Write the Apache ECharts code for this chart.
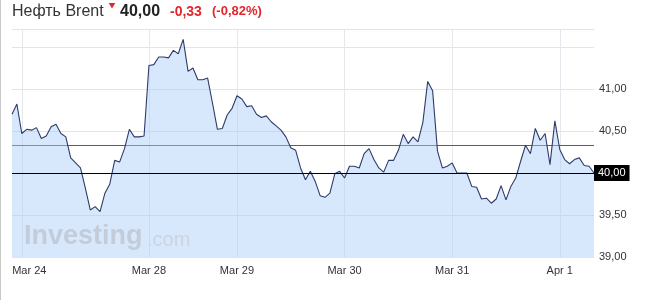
<!DOCTYPE html>
<html>
<head>
<meta charset="utf-8">
<script src="https://cdn.jsdelivr.net/npm/echarts@6/dist/echarts.min.js"></script>
<style>
html,body{margin:0;padding:0;background:#fff;}
#c{width:648px;height:300px;}
</style>
</head>
<body>
<div id="c"></div>
<script>
// Price series (hourly points)
const prices = [
40.70,40.82,40.47,40.52,40.51,40.54,40.41,40.44,40.55,40.58,
40.47,40.43,40.18,40.12,40.06,39.82,39.56,39.60,39.54,39.76,
39.87,40.15,40.13,40.29,40.52,40.43,40.43,40.44,41.28,41.29,
41.38,41.38,41.37,41.46,41.42,41.59,41.21,41.25,41.11,41.11,
41.13,40.83,40.52,40.53,40.69,40.77,40.92,40.88,40.79,40.80,
40.70,40.66,40.68,40.61,40.56,40.51,40.43,40.30,40.27,40.06,
39.92,40.02,39.90,39.73,39.71,39.76,39.99,40.02,39.94,40.08,
40.08,40.06,40.23,40.29,40.16,40.06,40.01,40.15,40.15,40.27,
40.46,40.35,40.43,40.37,40.60,41.09,40.98,40.26,40.06,40.08,
40.12,40.00,40.00,40.00,39.84,39.83,39.69,39.70,39.64,39.69,
39.85,39.68,39.84,39.94,40.14,40.33,40.23,40.53,40.39,40.47,
40.10,40.62,40.28,40.16,40.11,40.16,40.18,40.09,40.08,40.00
];
// Day tick labels and the point index where each day starts
const dayLabels = ['Mar 24','Mar 28','Mar 29','Mar 30','Mar 31','Apr 1'];
const dayIndex = [2, 28, 46, 68, 90, 112];
// Y-axis tick labels shown
const yTicks = [39.0, 39.5, 40.5, 41.0];
const prevClose = 40.33;
const lastPrice = 40.00;
const titleName = 'Нефть Brent';
const titleLast = '40,00';
const titleChange = '-0,33';
const titlePct = '(-0,82%)';

const categories = prices.map((_, i) => String(i));
const FONT = 'Arial, "Liberation Sans", sans-serif';
const fmt = v => v.toFixed(2).replace('.', ',');
const RED = '#e0262d';

const staticGraphics = [
  {type: 'line', shape: {x1: 0.5, y1: 0, x2: 0.5, y2: 300}, style: {stroke: '#c8c8c8', lineWidth: 1}, z: 10},
  {type: 'text', left: 12, top: 4, z: 10, style: {text: titleName, font: '16px ' + FONT, fill: '#333'}},
  {type: 'polygon', z: 10, shape: {points: [[108.7, 3], [115.3, 3], [112, 8.5]]}, style: {fill: '#e4252b'}},
  {type: 'text', left: 120, top: 4, z: 10, style: {text: titleLast, font: 'bold 16px ' + FONT, fill: '#222'}},
  {type: 'text', left: 170, top: 5, z: 10, style: {text: titleChange, font: 'bold 14px ' + FONT, fill: '#e4252b'}},
  {type: 'text', left: 212, top: 5, z: 10, style: {text: titlePct, font: 'bold 13px ' + FONT, fill: '#e4252b'}},
  {type: 'text', left: 24, top: 223, z: 10, style: {text: 'Investing', font: 'bold 27px ' + FONT, fill: '#c3ccd8'}},
  {type: 'text', left: 147, top: 230, z: 10, style: {text: '.com', font: '20px ' + FONT, fill: '#cbd4df'}}
];

const chart = echarts.init(document.getElementById('c'), null, {renderer: 'canvas'});
chart.setOption({
  animation: false,
  backgroundColor: '#fff',
  grid: {left: 12, right: 54, top: 29, bottom: 43},
  xAxis: {
    type: 'category',
    data: categories,
    boundaryGap: false,
    axisLine: {show: false},
    axisTick: {show: false},
    splitLine: {show: true, interval: (i) => dayIndex.includes(i), lineStyle: {color: '#e4e7ec', width: 1}},
    axisLabel: {
      interval: (i) => dayIndex.includes(i),
      margin: 8,
      fontFamily: FONT, fontSize: 11, color: '#333',
      formatter: (v) => {
        const k = dayIndex.indexOf(Number(v));
        if (k < 0) return '';
        return k === 0 ? '{a|' + dayLabels[k] + '}' : dayLabels[k];
      },
      rich: {a: {fontFamily: FONT, fontSize: 11, color: '#333', padding: [0, 0, 0, 15]}}
    }
  },
  yAxis: {
    type: 'value',
    position: 'right',
    min: 39,
    max: 41.714,
    interval: 0.5,
    axisLine: {show: false},
    axisTick: {show: false},
    splitLine: {show: true, lineStyle: {color: '#e4e4e4', width: 1}},
    axisLabel: {
      margin: 5,
      fontFamily: FONT, fontSize: 11, color: '#333',
      formatter: (v) => yTicks.some(t => Math.abs(t - v) < 1e-6) ? fmt(v) : ''
    }
  },
  series: [
    {
      type: 'line',
      name: 'last',
      data: [],
      z: 1,
      symbol: 'none',
      silent: true,
      markLine: {
        silent: true,
        symbol: 'none',
        animation: false,
        lineStyle: {color: '#000', width: 1, type: 'solid', opacity: 1},
        label: {show: true, position: 'end', distance: 0, formatter: fmt(lastPrice),
                backgroundColor: '#000', color: '#fff', fontFamily: FONT, fontSize: 11,
                padding: [3, 4, 2, 4]},
        data: [{yAxis: lastPrice}]
      }
    },
    {
      type: 'line',
      name: 'price',
      data: prices,
      z: 2,
      symbol: 'none',
      lineStyle: {color: '#2e3b68', width: 1.1},
      areaStyle: {color: 'rgba(168,204,250,0.46)', opacity: 1, origin: 'start'}
    }
  ],
  graphic: staticGraphics
});

// Previous-close reference line positioned through the chart's own scales
const pA = chart.convertToPixel({gridIndex: 0}, [0, prevClose]);
const pB = chart.convertToPixel({gridIndex: 0}, [prices.length - 1, prevClose]);
const yy = Math.round(pA[1]) + 0.5;
chart.setOption({
  graphic: staticGraphics.concat([
    {type: 'line', z: 1, silent: true,
     shape: {x1: pA[0], y1: yy, x2: pB[0], y2: yy},
     style: {stroke: RED, lineWidth: 1}}
  ])
});
</script>
</body>
</html>
